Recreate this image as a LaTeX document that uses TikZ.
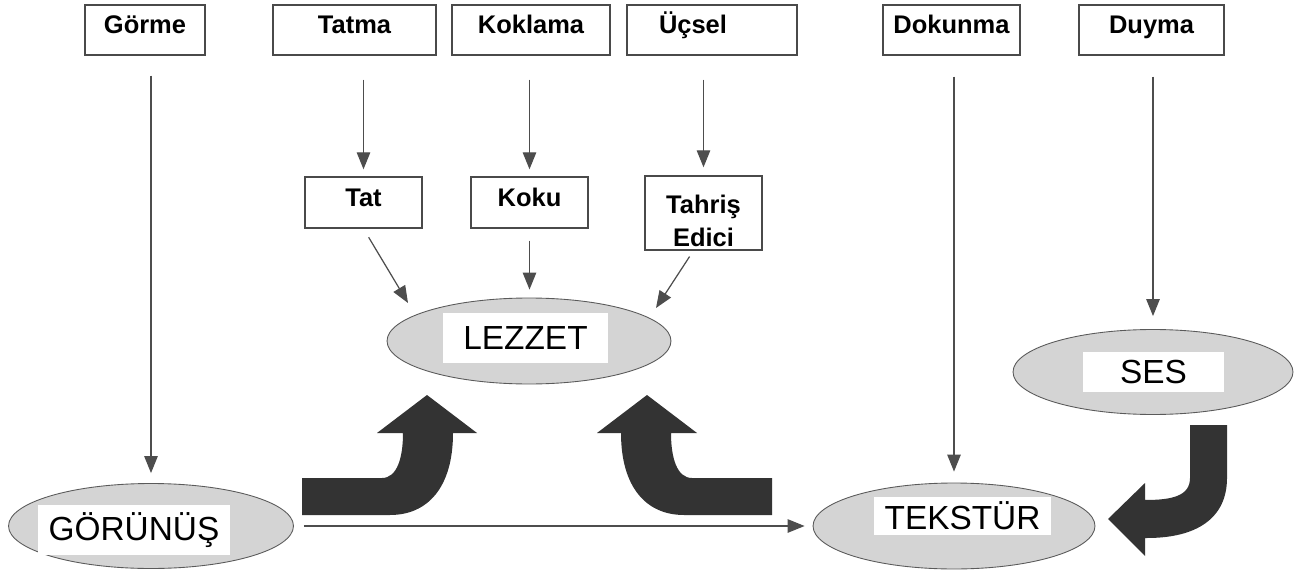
\documentclass[tikz,border=0pt]{standalone}
\usepackage{fontspec}
\setmainfont{Liberation Sans}
\usetikzlibrary{arrows.meta,shapes.geometric}
\definecolor{boxgray}{HTML}{4A4A4A}
\definecolor{edgegray}{HTML}{5A5A5A}
\definecolor{blobgray}{HTML}{D4D4D4}
\definecolor{arrowgray}{HTML}{4D4D4D}
\definecolor{blockgray}{HTML}{333333}

\begin{document}
\begin{tikzpicture}[x=0.02cm, y=-0.02cm,
    sensebox/.style={draw=boxgray, line width=0.8pt, inner sep=0pt, minimum height=1cm,
        font=\fontsize{14.5}{18.5}\bfseries\selectfont, text height=0.4cm, text depth=0.25cm},
    blob/.style={ellipse, draw=edgegray, fill=blobgray, line width=0.5pt, inner sep=0pt},
    blobtext/.style={fill=white, inner sep=0pt, font=\fontsize{19}{22}\selectfont},
    thinarrow/.style={draw=arrowgray, line width=0.7pt, -{Triangle[length=0.34cm, width=0.27cm]}},
    bigarrow/.style={fill=blockgray}]
    \useasboundingbox (0,0) rectangle (1301,574);

    % senses
    \node[sensebox, minimum width=2.4cm]  (gorme)   at (145,30)    {Görme};
    \node[sensebox, minimum width=3.26cm] (tatma)   at (354.5,30)  {Tatma};
    \node[sensebox, minimum width=3.16cm] (koklama) at (531,30)    {Koklama};
    \node[sensebox, text width=2.12cm, inner xsep=0.64cm, align=left] (ucsel) at (712,30) {Üçsel};
    \node[sensebox, minimum width=2.74cm] (dokunma) at (951.5,30)  {Dokunma};
    \node[sensebox, minimum width=2.9cm]  (duyma)   at (1151.5,30) {Duyma};

    \node[sensebox, minimum width=2.34cm, minimum height=1.02cm] (tat)  at (363.5,202.5) {Tat};
    \node[sensebox, minimum width=2.34cm, minimum height=1.02cm] (koku) at (529.5,202.5) {Koku};
    \node[sensebox, minimum width=2.34cm, minimum height=1.48cm] (tahris) at (703.5,213) {};
    \node[font=\fontsize{14.5}{18.5}\bfseries\selectfont, align=center, inner sep=0pt] (tahrisT) at (703.5,221) {Tahriş\\Edici};

    % perceptions
    \node[blob, minimum width=5.68cm, minimum height=1.72cm] (lezzet)  at (529,341)  {};
    \node[blob, minimum width=5.6cm,  minimum height=1.7cm]  (ses)     at (1153,372) {};
    \node[blob, minimum width=5.7cm,  minimum height=1.7cm]  (gorunus) at (151,526)  {};
    \node[blob, minimum width=5.64cm, minimum height=1.72cm] (tekstur) at (954,526)  {};
    \node[blobtext, minimum width=3.3cm,  minimum height=1cm]    at (525.5,338)  {LEZZET};
    \node[blobtext, minimum width=2.82cm, minimum height=0.82cm] at (1153.5,372) {SES};
    \node[blobtext, minimum width=3.84cm, minimum height=1cm]    at (134,530)    {GÖRÜNÜŞ};
    \node[blobtext, minimum width=3.54cm, minimum height=0.76cm] at (962.5,516)  {TEKSTÜR};

    \coordinate (tatTip) at (408,303);
    \coordinate (tahrisTip) at (656,308);

    \draw[thinarrow, shorten <=0.4cm, shorten >=0.2cm] (gorunus.north |- gorme.south) -- (gorunus.north);
    \draw[thinarrow, shorten <=0.48cm, shorten >=0.14cm] (tat.north |- tatma.south) -- (tat.north);
    \draw[thinarrow, shorten <=0.48cm, shorten >=0.14cm] (koku.north |- koklama.south) -- (koku.north);
    \draw[thinarrow, shorten <=0.48cm, shorten >=0.16cm] (tahris.north |- ucsel.south) -- (tahris.north);
    \draw[thinarrow, shorten <=0.42cm, shorten >=0.22cm] (tekstur.north |- dokunma.south) -- (tekstur.north);
    \draw[thinarrow, shorten <=0.42cm, shorten >=0.26cm] (ses.north |- duyma.south) -- (ses.north);

    \draw[thinarrow, shorten <=0.2cm] (tat.south) -- (tatTip);
    \draw[thinarrow, shorten <=0.24cm, shorten >=0.16cm] (koku.south) -- (koku.south |- lezzet.north);
    \draw[thinarrow, shorten <=0.14cm] (tahris.255) -- (tahrisTip);

    \draw[thinarrow, shorten <=0.2cm, shorten >=0.16cm] (gorunus.east) -- (tekstur.west);

    % thick arrows
    \fill[bigarrow] (302,478) -- (382,478) .. controls (397,478) and (403,458) .. (403,433) -- (377,433)
        -- (427,395) -- (477,433) -- (453,433) .. controls (453,487) and (428,515) .. (390,515) -- (302,515) -- cycle;
    \fill[bigarrow] (772,478) -- (692,478) .. controls (677,478) and (671,458) .. (671,433) -- (697,433)
        -- (647,395) -- (597,433) -- (621,433) .. controls (621,487) and (646,515) .. (684,515) -- (772,515) -- cycle;
    \fill[bigarrow] (1190,425) -- (1227,425) -- (1227,478) .. controls (1227,518) and (1197,538) .. (1147,538)
        -- (1145,538) -- (1145,556) -- (1108,519) -- (1145,483) -- (1145,500)
        .. controls (1172,500) and (1190,496) .. (1190,478) -- cycle;
\end{tikzpicture}
\end{document}
